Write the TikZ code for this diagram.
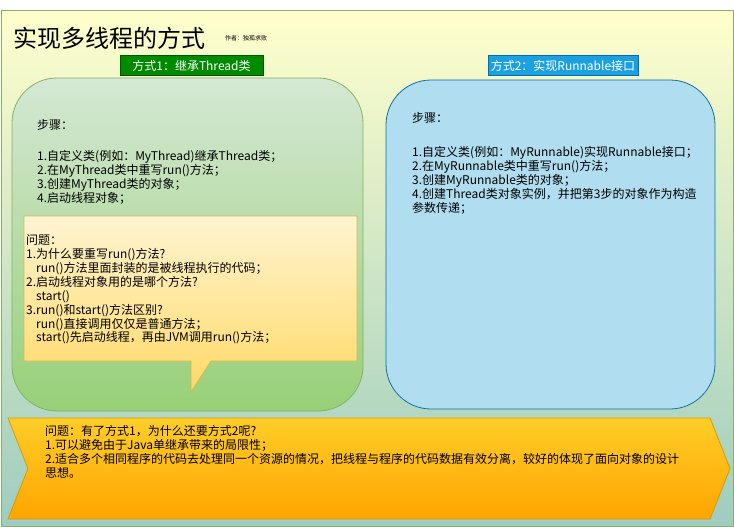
\documentclass[tikz,border=0pt]{standalone}
\usepackage{fontspec}
\setmainfont{Noto Sans CJK SC}
\definecolor{bgtop}{HTML}{FFFFCC}
\definecolor{bgbot}{HTML}{9ECCBF}
\definecolor{frameg}{HTML}{82B366}
\definecolor{gtop}{HTML}{D5E8D4}
\definecolor{gbot}{HTML}{97D077}
\definecolor{bfill}{HTML}{B1DDF0}
\definecolor{bline}{HTML}{10739E}
\definecolor{ytop}{HTML}{FFF4D2}
\definecolor{ybot}{HTML}{FFD966}
\definecolor{yline}{HTML}{D6B656}
\definecolor{otop}{HTML}{FFCD28}
\definecolor{obot}{HTML}{FFA500}
\definecolor{oline}{HTML}{D79B00}
\definecolor{lgreen}{HTML}{008A00}
\definecolor{lgreenl}{HTML}{005700}
\definecolor{lblue}{HTML}{1BA1E2}
\definecolor{lbluel}{HTML}{006EAF}
\tikzset{
  txt/.style={anchor=north west, inner sep=0pt, align=left, font=\fontsize{12}{13.9}\selectfont, text=black},
  tag/.style={draw, line width=0.8pt, inner sep=0pt, text=white, font=\fontsize{12}{13}\selectfont, minimum height=20pt},
  bigbox/.style={draw, line width=0.8pt, rounded corners=45pt, inner sep=0pt}
}
\begin{document}
\begin{tikzpicture}[x=1pt,y=-1pt]
\useasboundingbox (0,0) rectangle (734,527);
% frame
\node[draw=frameg, line width=1pt, top color=bgtop, bottom color=bgbot, inner sep=0pt,
      minimum width=732pt, minimum height=515pt, anchor=north west] (frame) at (0.5,10.5) {};
% title
\node[anchor=base west, inner sep=0pt, font=\fontsize{24}{26}\selectfont] (title) at (13,48) {实现多线程的方式};
\node[anchor=base west, inner sep=0pt, font=\fontsize{6}{7}\selectfont] (author) at (225,41) {作者：独孤求败};
% tags
\node[tag, fill=lgreen, draw=lgreenl, minimum width=143pt] (tag1) at (191.5,65.5) {方式1：继承Thread类};
\node[tag, fill=lblue, draw=lbluel, minimum width=150pt] (tag2) at (563,65.5) {方式2：实现Runnable接口};
% big boxes
\node[bigbox, draw=frameg, top color=gtop, bottom color=gbot, minimum width=351pt, minimum height=333pt] (gbox) at (187.5,244.5) {};
\node[bigbox, draw=bline, fill=bfill, minimum width=329pt, minimum height=329pt] (bbox) at (550.5,244.5) {};
% callout
\draw[draw=yline, line width=0.8pt, top color=ytop, bottom color=ybot]
  (24,216) -- (357,216) -- (357,361) -- (211,361) -- (191,392) -- (191,361) -- (24,361) -- cycle;
% bottom chevron
\draw[draw=oline, line width=0.8pt, top color=otop, bottom color=obot]
  (8,418) -- (710,418) -- (730,468.5) -- (710,519) -- (8,519) -- (28,468.5) -- cycle;
% texts
\node[txt] (g1) at (37,119.5) {步骤：};
\node[txt] (g2) at (37,150.5) {1.自定义类(例如：MyThread)继承Thread类；\\2.在MyThread类中重写run()方法；\\3.创建MyThread类的对象；\\4.启动线程对象；};
\node[txt] (q) at (26,234.5) {问题：\\1.为什么要重写run()方法?\\\hspace*{10pt}run()方法里面封装的是被线程执行的代码；\\2.启动线程对象用的是哪个方法?\\\hspace*{10pt}start()\\3.run()和start()方法区别?\\\hspace*{10pt}run()直接调用仅仅是普通方法；\\\hspace*{10pt}start()先启动线程，再由JVM调用run()方法；};
\node[txt] (b1) at (412,112.5) {步骤：};
\node[txt] (b2) at (412,146.5) {1.自定义类(例如：MyRunnable)实现Runnable接口；\\2.在MyRunnable类中重写run()方法；\\3.创建MyRunnable类的对象；\\4.创建Thread类对象实例，并把第3步的对象作为构造\\参数传递；};
\node[txt] (o) at (45,425.5) {问题：有了方式1，为什么还要方式2呢?\\1.可以避免由于Java单继承带来的局限性；\\2.适合多个相同程序的代码去处理同一个资源的情况，把线程与程序的代码数据有效分离，较好的体现了面向对象的设计\\思想。};
\end{tikzpicture}
\end{document}
